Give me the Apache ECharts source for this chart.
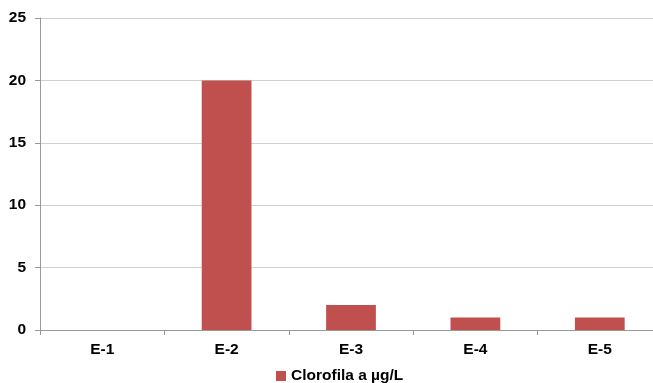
<!DOCTYPE html>
<html><head><meta charset="utf-8">
<script src="https://cdn.jsdelivr.net/npm/echarts@6/dist/echarts.min.js"></script>
<style>html,body{margin:0;padding:0;background:#fff}#c{width:653px;height:383px}</style>
</head><body><div id="c"></div>
<script>
const categories = ['E-1','E-2','E-3','E-4','E-5'];
const values = [0, 20, 2, 1, 1];
const seriesName = 'Clorofila a µg/L';
const yTicks = {min: 0, max: 25, interval: 5};

const chart = echarts.init(document.getElementById('c'), null, {renderer: 'canvas'});
chart.setOption({
  animation: false,
  textStyle: {fontFamily: 'Liberation Sans, Arial, sans-serif'},
  grid: {left: 40, top: 18, width: 622, height: 312, containLabel: false, outerBoundsMode: 'none'},
  legend: {
    data: [seriesName], bottom: -6, left: 271, itemWidth: 10, itemHeight: 10, itemGap: 3, icon: 'rect',
    textStyle: {fontSize: 15.5, fontWeight: 'bold', color: '#000', fontFamily: 'Liberation Sans, Arial, sans-serif'}
  },
  xAxis: {
    type: 'category', data: categories,
    axisLine: {lineStyle: {color: '#999', width: 1}},
    axisTick: {show: true, length: 5, lineStyle: {color: '#999'}},
    axisLabel: {fontSize: 15.5, fontWeight: 'bold', color: '#000', margin: 12}
  },
  yAxis: {
    type: 'value', min: yTicks.min, max: yTicks.max, interval: yTicks.interval,
    axisLine: {show: true, lineStyle: {color: '#999'}},
    axisTick: {show: true, length: 5, lineStyle: {color: '#999'}},
    splitLine: {lineStyle: {color: '#d0d0d0'}},
    axisLabel: {fontSize: 15.5, fontWeight: 'bold', color: '#000', margin: 14}
  },
  series: [{
    name: seriesName, type: 'bar', data: values, barWidth: '40%',
    itemStyle: {color: '#c0504d'}
  }]
});
</script></body></html>
